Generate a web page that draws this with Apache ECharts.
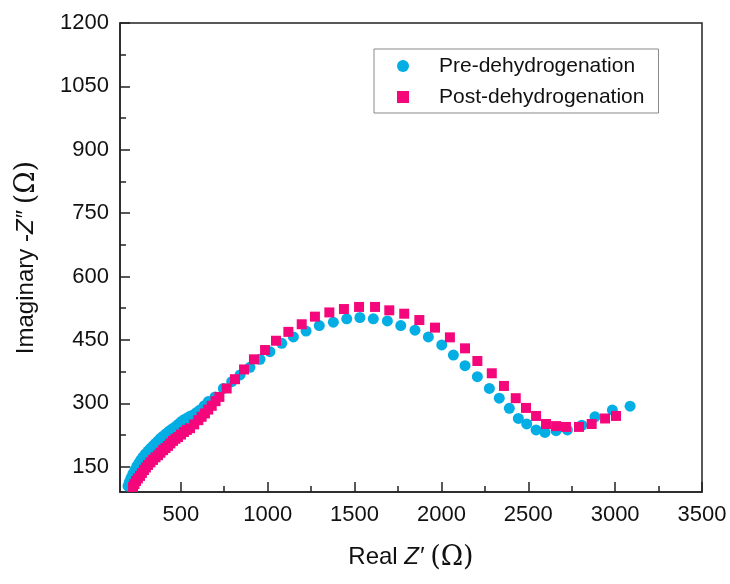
<!DOCTYPE html>
<html>
<head>
<meta charset="utf-8">
<script src="https://cdn.jsdelivr.net/npm/echarts@6/dist/echarts.min.js"></script>
<style>
  html, body { margin: 0; padding: 0; background: #fff; }
  #chart { width: 730px; height: 584px; }
</style>
</head>
<body>
<div id="chart"></div>
<script>
// impedance data (Ohm)
const preX = [196, 204, 213, 224, 236, 247, 259, 270, 282, 296, 311, 325, 340, 354, 369, 383, 398, 415, 432, 449,
  467, 484, 501, 518, 536, 553, 570, 590, 610, 634, 658, 697, 745, 793, 841,
  898, 956, 1013, 1081, 1148, 1221, 1297, 1378, 1455, 1531, 1608, 1689, 1766, 1848, 1925, 2002, 2069, 2136, 2207,
  2276, 2333, 2391, 2443, 2491, 2545, 2596, 2660, 2725, 2808, 2884, 2984, 3086];
const preY = [104, 114, 123, 133, 142, 151, 159, 166, 173, 180, 187, 193, 199, 205, 211, 217, 222, 228, 234, 239,
  244, 250, 256, 261, 265, 269, 272, 278, 284, 294, 304, 315, 335, 351, 367,
  385, 404, 422, 442, 457, 471, 484, 492, 500, 503, 500, 495, 484, 473, 457, 438, 414, 389, 363,
  335, 312, 288, 264, 251, 237, 231, 235, 237, 248, 268, 284, 293];

const postX = [225, 233, 242, 253, 265, 276, 288, 299, 311, 325, 340, 354, 369, 383, 398, 412, 426, 440, 455, 469,
  484, 501, 518, 535, 553, 577, 601, 620, 639, 658, 678, 700, 722, 764, 812, 864,
  921, 985, 1048, 1119, 1196, 1272, 1355, 1439, 1526, 1618, 1700, 1786, 1873, 1963, 2049, 2136, 2207, 2290,
  2360, 2428, 2487, 2545, 2602, 2660, 2717, 2792, 2865, 2942, 3005];
const postY = [102, 109, 116, 122, 128, 135, 142, 148, 154, 160, 166, 172, 177, 183, 189, 194, 199, 205, 211, 216,
  220, 226, 232, 237, 241, 250, 260, 268, 276, 285, 294, 305, 315, 335, 357, 380,
  404, 426, 448, 469, 487, 505, 515, 523, 528, 528, 520, 512, 497, 479, 456, 430, 400, 371,
  341, 312, 289, 270, 251, 246, 244, 244, 251, 264, 270];

const seriesNames = ["Pre-dehydrogenation", "Post-dehydrogenation"];

const xTicks = [500, 1000, 1500, 2000, 2500, 3000, 3500];
const xMinorTicks = [750, 1250, 1750, 2250, 2750, 3250];
const yTicks = [150, 300, 450, 600, 750, 900, 1050, 1200];
const yMinorTicks = [225, 375, 525, 675, 825, 975, 1125];

const pair = (xs, ys) => xs.map((x, i) => [x, ys[i]]);

const axisColor = "#222";
const labelFont = {
  fontFamily: "Liberation Sans, Arial, sans-serif", fontSize: 22, color: "#111",
  formatter: v => String(v)
};
const nameRich = {
  a: { fontFamily: "Liberation Sans, Arial, sans-serif", fontSize: 24, color: "#111" },
  i: { fontFamily: "Liberation Sans, Arial, sans-serif", fontSize: 24, fontStyle: "italic", color: "#111" },
  o: { fontFamily: "DejaVu Serif, Liberation Serif, serif", fontSize: 27, color: "#111" }
};

const chart = echarts.init(document.getElementById("chart"));

chart.setOption({
  animation: false,
  backgroundColor: "#fff",
  grid: {
    left: 120, right: 28, top: 23, bottom: 92,
    show: true, borderColor: axisColor, borderWidth: 1.5
  },
  legend: {
    left: 374, top: 49,
    orient: "vertical",
    padding: [6, 14, 5, 23],
    itemWidth: 12, itemHeight: 12, itemGap: 9,
    borderColor: "#888", borderWidth: 1,
    textStyle: { fontFamily: "Liberation Sans, Arial, sans-serif", fontSize: 21, lineHeight: 22, color: "#111", padding: [0, 0, 0, 25] },
    data: seriesNames
  },
  xAxis: [
    {
      type: "value", min: 150, max: 3500,
      name: "{a|Real }{i|Z′}{a| }{o|(Ω)}",
      nameLocation: "middle", nameGap: 52,
      nameTextStyle: { rich: nameRich },
      axisLine: { lineStyle: { color: axisColor, width: 1.5 } },
      axisTick: { inside: true, length: 10, customValues: xTicks, lineStyle: { color: axisColor, width: 1.5 } },
      axisLabel: { customValues: xTicks, margin: 12, ...labelFont },
      splitLine: { show: false }
    },
    {
      type: "value", min: 150, max: 3500, position: "bottom",
      axisLine: { show: false },
      axisTick: { inside: true, length: 6, customValues: xMinorTicks, lineStyle: { color: axisColor, width: 1.5 } },
      axisLabel: { show: false },
      splitLine: { show: false }
    }
  ],
  yAxis: [
    {
      type: "value", min: 90, max: 1200,
      name: "{a|Imaginary -}{i|Z″}{a| }{o|(Ω)}",
      nameLocation: "middle", nameGap: 80,
      nameTextStyle: { rich: nameRich },
      axisLine: { lineStyle: { color: axisColor, width: 1.5 } },
      axisTick: { inside: true, length: 10, customValues: yTicks, lineStyle: { color: axisColor, width: 1.5 } },
      axisLabel: { customValues: yTicks, margin: 11, ...labelFont },
      splitLine: { show: false }
    },
    {
      type: "value", min: 90, max: 1200, position: "left",
      axisLine: { show: false },
      axisTick: { inside: true, length: 6, customValues: yMinorTicks, lineStyle: { color: axisColor, width: 1.5 } },
      axisLabel: { show: false },
      splitLine: { show: false }
    }
  ],
  series: [
    {
      name: seriesNames[0],
      type: "scatter",
      symbol: "circle",
      symbolSize: 11,
      itemStyle: { color: "#03AEE4", opacity: 1 },
      data: pair(preX, preY)
    },
    {
      name: seriesNames[1],
      type: "scatter",
      symbol: "rect",
      symbolSize: 10,
      itemStyle: { color: "#F5077C", opacity: 1 },
      data: pair(postX, postY)
    }
  ]
});
</script>
</body>
</html>
